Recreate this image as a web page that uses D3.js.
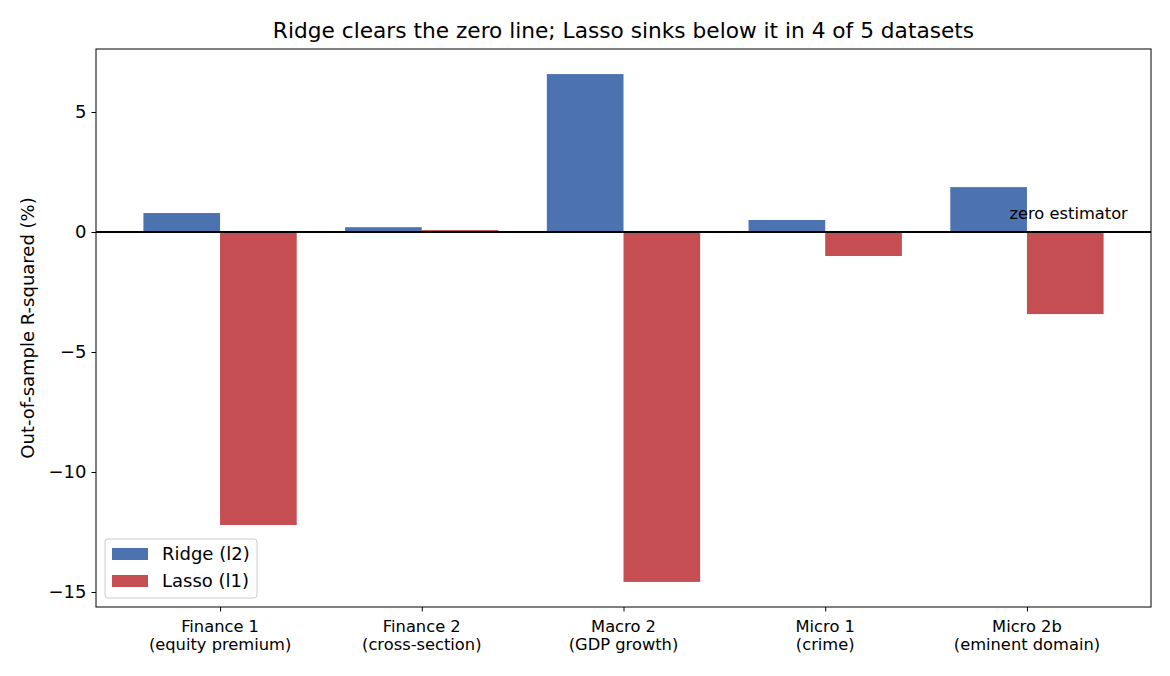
<!DOCTYPE html>
<html>
<head>
<meta charset="utf-8">
<script src="https://cdn.jsdelivr.net/npm/d3@7/dist/d3.min.js"></script>
<style>
  body { margin: 0; background: #fff; }
  svg { font-family: "DejaVu Sans", sans-serif; }
</style>
</head>
<body>
<script>
var categories = ["Finance 1\n(equity premium)", "Finance 2\n(cross-section)", "Macro 2\n(GDP growth)", "Micro 1\n(crime)", "Micro 2b\n(eminent domain)"];
var ridgeValues = [0.79, 0.2, 6.58, 0.5, 1.87];
var lassoValues = [-12.21, 0.08, -14.58, -1.0, -3.42];
var yTicks = [-15, -10, -5, 0, 5];
var seriesNames = ["Ridge (l2)", "Lasso (l1)"];
var seriesColors = ["#4c72b0", "#c44e52"];

var cfg = { width: 1170, height: 676, left: 96, right: 1151, top: 49, bottom: 607 };

var svg = d3.select('body').append('svg')
  .attr('width', cfg.width)
  .attr('height', cfg.height);

// x in category units
var x = d3.scaleLinear()
  .domain([-0.615, categories.length - 1 + 0.615])
  .range([cfg.left, cfg.right]);
var y = d3.scaleLinear()
  .domain([-15.625, 7.625])
  .range([cfg.bottom, cfg.top]);

var barW = 0.38;

// bars
var series = [ridgeValues, lassoValues];
series.forEach(function (vals, s) {
  svg.append('g').selectAll('rect')
    .data(vals)
    .enter()
    .append('rect')
    .attr('x', function (d, i) { return x(i + (s === 0 ? -barW : 0)); })
    .attr('width', function () { return x(barW) - x(0); })
    .attr('y', function (d) { return y(Math.max(0, d)); })
    .attr('height', function (d) { return Math.abs(y(d) - y(0)); })
    .attr('fill', seriesColors[s]);
});

// zero line
svg.append('line')
  .attr('x1', cfg.left).attr('x2', cfg.right)
  .attr('y1', y(0)).attr('y2', y(0))
  .attr('stroke', '#000')
  .attr('stroke-width', 2);

svg.append('text')
  .attr('x', x(categories.length - 1 + 0.5))
  .attr('y', y(0) - 13)
  .attr('text-anchor', 'end')
  .attr('font-size', 16.3)
  .text('zero estimator');

// y axis
var yAxis = d3.axisLeft(y).tickValues(yTicks).tickSize(4.5).tickPadding(5)
  .tickFormat(function (d) { return d < 0 ? '\u2212' + Math.abs(d) : d; });
var gy = svg.append('g')
  .attr('transform', 'translate(' + cfg.left + ',0)')
  .call(yAxis);
gy.select('.domain').remove();
gy.selectAll('text').attr('font-size', 18).attr('fill', '#000').style('font-family', 'DejaVu Sans');
gy.selectAll('line').attr('stroke', '#000');

// x axis
var xAxis = d3.axisBottom(x).tickValues(d3.range(categories.length)).tickSize(4.5).tickFormat('');
var gx = svg.append('g')
  .attr('transform', 'translate(0,' + cfg.bottom + ')')
  .call(xAxis);
gx.select('.domain').remove();
gx.selectAll('line').attr('stroke', '#000');

svg.append('g').selectAll('text')
  .data(categories)
  .enter()
  .append('text')
  .attr('text-anchor', 'middle')
  .attr('font-size', 16.3)
  .attr('transform', function (d, i) { return 'translate(' + x(i) + ',' + (cfg.bottom + 25) + ')'; })
  .selectAll('tspan')
  .data(function (d) { return d.split('\n'); })
  .enter()
  .append('tspan')
  .attr('x', 0)
  .attr('dy', function (d, j) { return j === 0 ? 0 : 18; })
  .text(function (d) { return d; });

// frame
svg.append('rect')
  .attr('x', cfg.left).attr('y', cfg.top)
  .attr('width', cfg.right - cfg.left)
  .attr('height', cfg.bottom - cfg.top)
  .attr('fill', 'none')
  .attr('stroke', '#000')
  .attr('stroke-width', 1);

// y label
svg.append('text')
  .attr('transform', 'translate(34,' + ((cfg.top + cfg.bottom) / 2) + ') rotate(-90)')
  .attr('text-anchor', 'middle')
  .attr('font-size', 18)
  .text('Out-of-sample R-squared (%)');

// title
svg.append('text')
  .attr('x', (cfg.left + cfg.right) / 2)
  .attr('y', 38)
  .attr('text-anchor', 'middle')
  .attr('font-size', 21.7)
  .text('Ridge clears the zero line; Lasso sinks below it in 4 of 5 datasets');

// legend
var lg = svg.append('g').attr('transform', 'translate(105,539)');
lg.append('rect')
  .attr('width', 152).attr('height', 59)
  .attr('rx', 3)
  .attr('fill', '#fff').attr('fill-opacity', 0.8)
  .attr('stroke', '#ccc');
seriesNames.forEach(function (name, i) {
  lg.append('rect')
    .attr('x', 7).attr('y', 9 + i * 27)
    .attr('width', 36).attr('height', 12)
    .attr('fill', seriesColors[i]);
  lg.append('text')
    .attr('x', 57).attr('y', 21 + i * 27)
    .attr('font-size', 18)
    .text(name);
});
</script>
</body>
</html>
